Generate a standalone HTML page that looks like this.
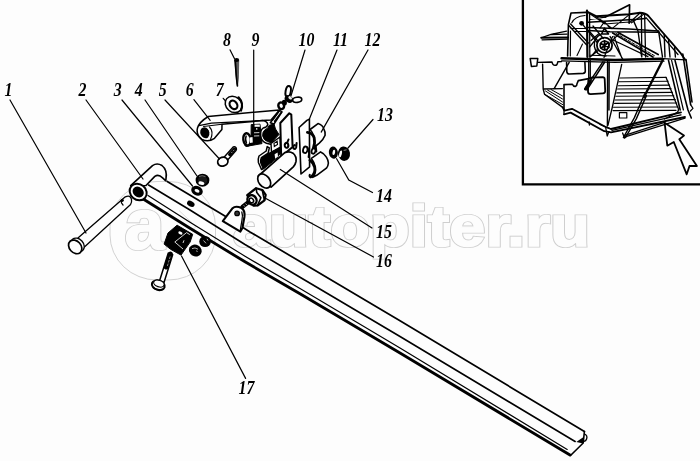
<!DOCTYPE html>
<html lang="ru">
<head>
<meta charset="utf-8">
<title>Схема</title>
<style>
html,body{margin:0;padding:0;background:#fdfdfd;}
body{width:700px;height:461px;overflow:hidden;position:relative;}
svg{position:absolute;left:0;top:0;display:block;}
.lbl{font-family:"Liberation Serif",serif;font-weight:bold;font-style:italic;font-size:18px;fill:#000;}
.wm{font-family:"Liberation Sans",sans-serif;font-weight:bold;fill:none;stroke:#cfcfcf;stroke-width:1;}
.ld{stroke:#000;stroke-width:1.2;fill:none;stroke-linecap:round;}
.ln{stroke:#000;stroke-width:1.3;fill:none;stroke-linecap:round;stroke-linejoin:round;}
.th{stroke:#000;stroke-width:2.2;fill:none;stroke-linecap:round;stroke-linejoin:round;}
.wf{stroke:#000;stroke-width:1.3;fill:#fdfdfd;stroke-linejoin:round;stroke-linecap:round;}
.bk{fill:#000;stroke:#000;stroke-width:1;stroke-linejoin:round;}
</style>
</head>
<body>
<svg width="700" height="461" viewBox="0 0 700 461">
<defs><filter id="idf" x="0" y="0" width="700" height="461" filterUnits="userSpaceOnUse"><feOffset dx="0" dy="0"/></filter></defs>
<rect x="0" y="0" width="700" height="461" fill="#fdfdfd"/>

<!-- WATERMARK -->
<g id="wm">
<rect x="110" y="181.5" width="105.5" height="98.5" rx="47" ry="45" fill="none" stroke="#d2d2d2" stroke-width="1"/>
<text class="wm" x="124.5" y="248.6" font-size="72" style="stroke-width:3.2">a</text>
<text class="wm" x="124.5" y="248.6" font-size="72" style="stroke:#fdfdfd;fill:#fdfdfd;stroke-width:1.4">a</text>
<path d="M179,210.5 L196,226.5 L192,230.5" fill="none" stroke="#d8d8d8" stroke-width="0.9"/>
<text class="wm" x="233" y="245.6" font-size="56.5" textLength="357" lengthAdjust="spacingAndGlyphs" style="stroke-width:3.2">autopiter.ru</text>
<text class="wm" x="233" y="245.6" font-size="56.5" textLength="357" lengthAdjust="spacingAndGlyphs" style="stroke:#fdfdfd;fill:#fdfdfd;stroke-width:1.4">autopiter.ru</text>
</g>

<!-- INSET BOX -->
<g id="inset">
<path d="M522.9,0 V184.3 H700" fill="none" stroke="#000" stroke-width="2.3"/>
<g fill="none" stroke="#000" stroke-linecap="round" stroke-linejoin="round">
<!-- top housing -->
<path stroke-width="1.6" d="M586,12.4 L571,13 L568.4,24.7 L567.6,56"/>
<path stroke-width="1.2" d="M570.5,31 L570.3,56 M571.8,22.8 Q574.5,16.5 585,15.5"/>
<circle cx="581.6" cy="23.3" r="2.4" fill="#000" stroke="none"/>
<path stroke-width="2.2" d="M587,10.6 L587.4,57"/>
<path stroke-width="1.3" d="M589.6,14 L589.8,57"/>
<path stroke-width="1.4" d="M568.8,25.5 L586.5,44.8 M570.6,24 L588.3,43"/>
<path stroke-width="1.1" d="M582.5,44 L577,55.5 M571,28.5 L586,28.5 M575,31.5 L586,31.5"/>
<!-- platform left -->
<path stroke-width="2" d="M541.3,37.8 L568,37.4"/>
<path stroke-width="1.2" d="M542,39.8 L568,39.2 M541.3,37.8 L551,34.4 L566.6,31.2 M551,34.6 L567,34.2"/>
<!-- pulley -->
<circle cx="604.5" cy="45.2" r="7.6" stroke-width="1.8"/>
<circle cx="604.6" cy="45.4" r="4.4" stroke-width="1.7"/>
<path stroke-width="1.9" d="M604.6,41 L604.6,49.8 M600.6,43.6 L608.8,47.2 M601.2,48.2 L608.2,42.4"/>
<path stroke-width="1.4" d="M606,56 Q596,56 594.4,46.6 Q593.6,38 600.6,34.4"/>
<path stroke-width="1.6" d="M601.5,34 L604.5,28.2 L608.5,34 Z"/>
<path stroke-width="1.1" d="M590,55.2 L615,56"/>
<path stroke-width="1.3" d="M591,40.6 L598.5,34 M589.6,47 L594.5,41 M592,55.5 L596.6,50"/>
<path stroke-width="1.3" d="M597.6,43 L583,24.8 M598.2,50.5 L590,57 M611,41.6 L620,33 M603.3,38.5 L593,26"/>
<!-- peak + roof frame -->
<path stroke-width="1.7" d="M605,17.2 L629.6,4.8 L629.2,23"/>
<path stroke-width="1.9" d="M588,12 L596,16.2 L629.6,14.2 L640,12.8 Q645.5,12.8 648.5,16 L656,24.8 L664,34 L672,43.2 L680.5,53 L685,59.5"/>
<path stroke-width="1.3" d="M646,17.6 L653.5,26.2 L661.6,35.5 L669.5,44.6 L678,54.5"/>
<path stroke-width="1.5" d="M588,22.2 L637.4,19.3 L645.4,18.4 M588,27.6 L629,29 L658.4,31"/>
<path stroke-width="1.2" d="M588,12.4 L605,24 L629,22 M596,16.2 L612,28.4 M605,17.2 L590,19.5 M629.2,23 L640,13 M631.5,22.8 L644,14 M612,28.6 L629.6,14.4 M600,28 L604.5,21.6 L610,28.4"/>
<path stroke-width="1.3" d="M641.4,13 L641.8,57 M644.6,13.6 L645.6,57"/>
<path stroke-width="1.4" d="M633,19.6 L638,31 L641.5,56 M658.6,31.2 L662.5,57 M664.2,34.2 L665,57 M668.6,40.5 L670,57 M674.6,47.4 L675.4,57"/>
<path stroke-width="1.5" d="M588,30.5 L610,31.8 L659.4,32.2"/>
<!-- conveyor diagonals -->
<path stroke-width="1.7" d="M612.7,33 L653,57 M618,32.4 L658.2,54.6"/>
<path stroke-width="1" stroke-dasharray="3 1.6" d="M616,33.4 L655,56"/>
<path stroke-width="1.2" d="M614,36.2 L621.8,58 M612.6,36.6 L604,57.5 M613,40 L648,56.6 M610,36.4 L623,59.6 M590,32 L598,41"/>
<!-- main horizontal band -->
<path stroke-width="2.5" d="M561.6,58.2 L615,60 L662,58.8"/>
<path stroke-width="1.2" d="M561.6,60.8 L615,62.4 L664,61.2 M663,58.6 L686,59.8"/>
<!-- left cup & shelf -->
<path stroke-width="1.5" d="M530.2,58.6 L537.8,58.4 L536.8,66 L531.4,66.4 Z"/>
<path stroke-width="1.4" d="M538,62.4 L552,62 Q552.6,65.4 555,65.4 Q557.4,65.4 557.8,61.8 L561.6,61.6"/>
<path stroke-width="1.4" d="M542.6,64.3 L543.2,89 L544.5,94.2 L562.7,107.4 M543.2,89 L562.4,88.6 M569.2,62.4 L554.3,88.4"/>
<path stroke-width="1" d="M545.5,91 L562.5,102 M547.5,90 L562.5,99 M551,89.5 L562.6,96 M544.5,94.2 L562.7,104.6"/>
<path stroke-width="1.6" d="M564,110 L564,84.6 L572.4,84.2 Q573.4,86.6 575.4,86.4 Q577,86 577,83.8 L578.3,80.6 L588.7,78.6"/>
<path stroke-width="1.6" d="M566.6,62.5 L566.8,71.6 Q567,74 569.4,74 L583,73.4 Q585.4,73.2 585.3,71 L584.9,62.4"/>
<path stroke-width="1.8" d="M591.4,77.6 L602.6,77.2 Q604.6,77.2 604.7,79.2 L605.2,91 Q605.2,93.2 603,93.3 L590.6,94.2 Q588,94.2 588,91.6 L588.3,80.4 Q588.6,77.8 591.4,77.6 Z"/>
<path stroke-width="1.3" d="M588.7,60.5 L588.7,82.5 M590.3,60.5 L590.3,78.5"/>
<path stroke-width="1.4" d="M603,61.7 L584.8,89 M604.8,62 L586.8,90"/>
<path stroke-width="3" d="M590.5,81 L585.5,89"/>
<path stroke-width="1.4" d="M607.6,60.4 L607.4,126 M609.2,62 L609,110"/>
<!-- louvres -->
<path stroke-width="1.3" d="M621.7,64.3 L612.6,106 L608,125"/>
<path stroke-width="1.15" d="M620,78 L666,77.4 M619,81.8 L668,81.2 M618.4,85.7 L669.6,85.1 M617.6,89 L671,88.6 M616.8,92.9 L672.4,92.4 M616,96.2 L673.8,95.8 M615.2,100 L675.2,99.6 M614.5,103.3 L676.6,103 M613.6,107.2 L678,107 M613,110.6 L676,110.4"/>
<path stroke-width="1.3" d="M666,77.3 L677.6,107 Q679.6,110 677,112.6 L664.6,119"/>
<rect x="619.4" y="112.6" width="7.4" height="5.4" stroke-width="1.2"/>
<!-- thick diagonal strut -->
<path stroke-width="2.3" d="M663.3,59.1 L644,97"/>
<path stroke-width="1.4" d="M644.6,94 L634.4,117.6 L623.4,137.6 M646.4,95.6 L636.4,118.6 L625.6,137.4"/>
<!-- right frame -->
<path stroke-width="1.6" d="M668.5,60.4 L680.2,110 M675,60.4 L688,110 L691.3,118 M682.8,54 L690.6,104.6 M686,59.6 L692,102"/>
<path stroke-width="1.2" d="M671.6,60.4 L683.4,110 M690.6,104.6 L693,108.4 L690.4,111"/>
<!-- bottom channel -->
<path stroke-width="1.8" d="M562.7,107.4 L564.4,110.6 L572,108.8 L605.6,127 L611,129 L681,112.4"/>
<path stroke-width="1.8" d="M564,114.3 L570.6,112.6 L604.3,131.2 L611,132.4 L685,117"/>
<path stroke-width="1.3" d="M612,130.4 L681,114.8 M623.6,137.3 L685,118.2 M624.8,135.4 L664.6,122.4 M605.6,127 L607.2,136 L609,131.6 M589.2,122 L589.4,125 M600,124.5 L611,129 M564,110.6 L564,114.3 M622.6,133 L624.6,138.2"/>
<!-- arrow -->
<path stroke-width="1.8" fill="#fdfdfd" d="M664.6,122.7 L667.3,145.7 L673.8,142 L686.7,174.3 L689.5,166 L696.9,166 L679.3,139.3 L684,135.6 Z"/>
</g>
</g>

<!-- BEAM -->
<g id="beam">
<path class="ln" stroke-width="1.7" d="M167.2,181.5 L227.4,217.6 L250,232 L300,261.5 L400,320.8 L584.4,431.5" style="stroke-width:1.7"/>
<path class="ln" d="M148.6,185 L190,210 L245,244.5 L300,277.2 L400,336.5 L575.1,441.5" style="stroke-width:1.6"/>
<path class="ln" d="M148,195.5 L190,222.2 L245,256.2 L300,288.6 L400,348.1 L567.2,449.4" style="stroke-width:1.2"/>
<path class="th" d="M142.8,198.7 L190,228.3 L245,261.8 L300,293.8 L400,353 L570,455" style="stroke-width:2.8"/>
<path class="ln" d="M584.4,431.5 L583.2,443 L570.5,455.5" style="stroke-width:1.6"/>
<path d="M576.3,442 L583.2,437.3 L583.2,443.6 Z" fill="#000"/>
<path class="ln" d="M584.6,434 Q587.8,435.5 586.6,439 Q586,441 584,441.3"/>
</g>


<!-- PIN 1 -->
<g id="pin1">
<path class="wf" d="M78.2,237.8 L125.3,196.8 Q130.5,194.5 131.5,199.5 Q132,202.5 130.6,204.4 L82.8,248.4 Z"/>
<ellipse class="wf" cx="77.6" cy="244.9" rx="7.6" ry="5.8" transform="rotate(48 77.6 244.9)" />
<ellipse class="wf" cx="75.2" cy="246.9" rx="7.6" ry="5.8" transform="rotate(48 75.2 246.9)" style="stroke-width:1.7"/>
<circle cx="122.2" cy="200.3" r="1.6" fill="#000"/>
<path class="ln" d="M121.3,200.8 Q120.8,203 123,205"/>
</g>

<!-- TUBE 2 -->
<g id="tube2">
<path class="wf" style="stroke-width:1.6" d="M130.7,185.7 L152.5,165.6 Q157,162.5 162,165.5 Q167.5,170 166,178.5 L165.8,180.8 L162.6,177.8 Q158.5,173.8 154.8,176.4 L146,185.5 Z"/>
<ellipse class="wf" cx="138.2" cy="192" rx="9" ry="7.8" transform="rotate(40 138.2 192)" style="stroke-width:2"/>
<ellipse cx="138.2" cy="192" rx="6" ry="5" transform="rotate(40 138.2 192)" fill="#000"/>
</g>


<!-- NUT 4 / WASHER 3 / HOLE -->
<g id="nuts34">
<ellipse cx="190.8" cy="203.8" rx="4" ry="2.7" transform="rotate(28 190.8 203.8)" fill="#000"/>
<ellipse cx="197" cy="190.7" rx="6" ry="4.7" transform="rotate(25 197 190.7)" fill="#000"/>
<ellipse cx="197" cy="190.8" rx="2.6" ry="1.6" transform="rotate(25 197 190.8)" fill="#fdfdfd"/>
<ellipse cx="202.5" cy="180.2" rx="5.8" ry="5.4" fill="#1a1a1a" stroke="#000" stroke-width="2.2"/>
<ellipse cx="201.4" cy="183.2" rx="3" ry="1.7" transform="rotate(15 201.4 183.2)" fill="#fdfdfd"/>
<path d="M199,176.5 Q202,174.8 205.5,176.6" stroke="#888" stroke-width="0.8" fill="none"/>
</g>

<!-- LUG -->
<g id="lug">
<path class="wf" style="stroke-width:2.1" d="M222.8,221.2 L232.6,208.2 Q235.5,205.3 241.5,208 Q245.3,210.5 244.4,217 L242.4,228 L240.4,231.6 Z"/>
<path class="ln" d="M241.8,212 Q243,215 242,220 L240.4,229.5"/>
<circle cx="237.1" cy="213.4" r="2.3" fill="#333" stroke="#000" stroke-width="1.2"/>
</g>

<!-- BOLT+NUT 16 -->
<g id="nut16">
<path d="M242.4,206.8 L250,200.8" stroke="#000" stroke-width="4.2" stroke-linecap="round"/>
<path d="M243.6,205.2 L244.8,206.6 M245.6,203.6 L246.8,205" stroke="#ddd" stroke-width="0.7"/>
<path class="wf" style="stroke-width:2.2" d="M247.2,195.2 L256.1,188.2 L262.3,190 L265.7,194.8 L264.5,200.3 L257.5,205.5 L253.5,205.6 Z"/>
<path class="ln" style="stroke-width:1.6" d="M256.1,188.2 L256.8,192.6 L260.9,197.7 L257.5,205.5 M262.3,190 L263.4,195.6 L264.5,200.3"/>
<ellipse cx="252" cy="199.9" rx="4.3" ry="5" transform="rotate(-38 252 199.9)" fill="#fdfdfd" stroke="#000" stroke-width="2.4"/>
<ellipse cx="251.4" cy="200.4" rx="2" ry="2.5" transform="rotate(-38 251.4 200.4)" fill="#fdfdfd" stroke="#000" stroke-width="1.5"/>
</g>

<!-- BLOCK 17 -->
<g id="block17">
<path class="bk" d="M164.1,244.1 L168,233 L177.1,225.2 L192.7,234.3 L190.1,242.1 L181,255.1 L170.6,249.3 Z"/>
<ellipse cx="180.4" cy="233" rx="2.2" ry="1.4" transform="rotate(25 180.4 233)" fill="#fdfdfd"/>
<path d="M174.8,242 L186.6,232.6 L189.8,234.6 M174.8,242 L183,249" stroke="#e8e8e8" stroke-width="0.9" fill="none"/>
<path d="M183,243 L184,240.3" stroke="#e8e8e8" stroke-width="0.9" fill="none"/>
</g>

<!-- NUTS near block -->
<g id="nutsb">
<ellipse cx="205.1" cy="241.5" rx="5.8" ry="5.6" fill="#000"/>
<path d="M203.5,240.5 L206,243.3 M207,238.8 L208,240.5" stroke="#ddd" stroke-width="0.8" fill="none"/>
<ellipse cx="195.3" cy="250.6" rx="6.5" ry="5.8" transform="rotate(30 195.3 250.6)" fill="#000"/>
<path d="M192,248.6 Q195,247 198,249.2 M196.6,250.5 L197.3,252" stroke="#ddd" stroke-width="0.8" fill="none"/>
</g>

<!-- BOLT below block -->
<g id="boltb">
<path class="wf" d="M168.3,253 L159.5,281 L164,282.5 L172.7,254.6 Z" style="stroke-width:1.5"/>
<path d="M170.5,253.9 L166.2,267.2" stroke="#000" stroke-width="4.6" stroke-linecap="round"/>
<path d="M170.2,256.5 L169.4,259 M169.2,260 L168.4,262.5 M168.1,263.6 L167.4,266" stroke="#bbb" stroke-width="0.7"/>
<ellipse cx="158.3" cy="285.2" rx="6.6" ry="4.7" transform="rotate(18 158.3 285.2)" fill="#fdfdfd" stroke="#000" stroke-width="2"/>
<ellipse cx="158.9" cy="283.6" rx="5.4" ry="3.2" transform="rotate(18 158.9 283.6)" fill="#fdfdfd" stroke="#000" stroke-width="1.1"/>
<path d="M153,287.5 Q157,291 163.5,289.2" stroke="#000" stroke-width="1.6" fill="none"/>
</g>


<!-- BOLT 5 -->
<g id="bolt5">
<path class="wf" style="stroke-width:1.4" d="M223.8,157.5 L233.2,147 Q235.3,146 236.3,148 Q236.8,149.4 236,150.5 L227,160.8 Z"/>
<path d="M229.8,154.5 L234.6,149.2" stroke="#000" stroke-width="3.4" stroke-linecap="round"/>
<path d="M231.3,153 L232.4,151.8 M233.2,151 L234.2,149.8" stroke="#ccc" stroke-width="0.7"/>
<ellipse class="wf" style="stroke-width:1.8" cx="222.8" cy="161.7" rx="5.2" ry="4.4" transform="rotate(-15 222.8 161.7)"/>
</g>

<!-- WASHER 7 -->
<g id="washer7">
<ellipse class="wf" style="stroke-width:1.5" cx="233.6" cy="104.4" rx="9" ry="7.6" transform="rotate(40 233.6 104.4)"/>
<path d="M238.5,97.3 Q244,103 241,110.5" stroke="#000" stroke-width="2.2" fill="none" stroke-linecap="round"/>
<ellipse cx="233.5" cy="104.8" rx="4.6" ry="3.5" transform="rotate(55 233.5 104.8)" fill="#fdfdfd" stroke="#000" stroke-width="2.2"/>
</g>

<!-- COTTER 8 -->
<g id="cotter8">
<path d="M234.4,60.5 L239.2,60.2 L238.9,78 L237.9,86.6 L236.4,84 L235,68 Z" fill="#5a5a5a"/>
<path d="M235.2,60.5 L236.2,75 L237.4,85.8" stroke="#000" stroke-width="1.7" stroke-linecap="round" fill="none"/>
<ellipse cx="236.6" cy="60" rx="2.6" ry="2" fill="#000"/>
</g>

<!-- STRAP 6 -->
<g id="strap6">
<path class="wf" style="stroke-width:1.5" d="M208.2,116.5 L279.5,109.9 L271,120 L262,120.6 L222,124.3 L221.9,129.5 L214.5,138.3 Q208,142.8 202,139.3 Q195.8,135 197.5,128 Q199,122.3 208.2,116.5 Z"/>
<path class="ln" style="stroke-width:1.3" d="M199,125.6 L211.5,123.2 L262,120.6"/>
<path class="ln" style="stroke-width:1.1" d="M203.5,126.5 L222,124.3"/>
<ellipse cx="205" cy="132.8" rx="4.6" ry="5.6" transform="rotate(-25 205 132.8)" fill="#000"/>
<path d="M207.8,128.4 Q211.6,132 208.8,137.2" stroke="#fdfdfd" stroke-width="0.9" fill="none"/>
<path class="ln" style="stroke-width:1.2" d="M209.5,127 Q214,131.5 210.5,139.5"/>
</g>

<!-- NUT/BOLT 9 -->
<g id="nut9">
<path class="bk" d="M251.2,124.6 L260,124.2 L260.6,131 L261,137 L262,143.6 L246,146.4 L244.5,145 L251,141.5 Z"/>
<rect x="254.4" y="124.6" width="5.4" height="2.2" fill="#fdfdfd"/>
<rect x="256" y="128.2" width="1.4" height="1.4" fill="#fdfdfd"/>
<path d="M254,132.8 L259.4,132.6 M254,136 L259.4,135.8" stroke="#e6e6e6" stroke-width="0.9" fill="none"/>
<ellipse cx="247" cy="139.4" rx="3.7" ry="6.2" transform="rotate(-8 247 139.4)" fill="#fdfdfd" stroke="#000" stroke-width="2.4"/>
<path d="M246.3,135.5 Q244.6,139.5 246.6,143.6" stroke="#000" stroke-width="1.4" fill="none"/>
<path d="M249.5,137.5 L252.5,137 L252.8,142.6 L250,143 Z" fill="#fdfdfd"/>
</g>

<!-- BRACKET -->
<g id="bracket">
<path class="wf" style="stroke-width:1.5" d="M270.3,122.8 L279.6,110.4 L282,111.8 L274,124 Z"/>
<path class="bk" d="M269.2,125.3 L274,124 L275.5,129 L279,134.5 L271.2,142.8 L267.5,141.6 Q263.5,140 262.7,136 Q262.2,132 265,129.7 Q268.5,128.5 269.2,125.3 Z"/>
<path class="ln" style="stroke-width:1.5" d="M262,120.6 Q267.2,121 267.8,124.6 Q267.2,127.2 263.2,128 Q260,130.5 260.3,136 Q261.5,141.5 266.5,143.2 L270.5,144.2"/>
<path class="wf" style="stroke-width:1.4" d="M271,143.4 L280,137 L280.4,147 L271.5,152 Z"/>
<path d="M274,143.4 L277.2,141.2 L277.5,144.4 L274.3,146.5 Z" fill="#fdfdfd" stroke="#000" stroke-width="1.1"/>
<path class="bk" d="M271.5,152 L280.4,147.5 L280.4,153 L277,158 L263.5,169 L260.8,163 L261.3,157.8 L268,153.6 Z"/>
<path d="M274.6,154.2 L277.6,152.6 L278,156.4 L275.2,158.8 Z" fill="#fdfdfd"/>
<path class="wf" style="stroke-width:1.5" d="M267.2,146.6 L266.2,151 L259,156 Q257.8,159 258.4,162.5 L261.5,169.5 L263.2,168.5 L260.8,162.8 Q260.4,159.6 261.4,157.6 L268.2,153 L269.3,147.8 Z"/>
</g>

<!-- PLATE A (part 10 side) -->
<g id="plateA">
<path class="wf" style="stroke-width:2" d="M280.3,123 L289.3,113.2 L291.3,114.6 L292.6,147 L281.2,156.5 Z"/>
<path class="ln" style="stroke-width:2" d="M287.3,142.5 Q284.3,143 284.8,146 Q285.6,148.5 287.8,147.3 Q289.2,145.5 287.3,142.5 L288.5,139.5"/>
<path class="ln" style="stroke-width:2" d="M294.5,145 Q292.5,146.5 293.6,148.6 Q295.5,149.6 296.2,147.2 L296.6,143"/>
</g>

<!-- WING NUT 10 -->
<g id="wing10">
<path class="ln" style="stroke-width:1.5" d="M279.3,110.8 L272.6,120 M281.6,112 L274.6,121.3"/>
<ellipse cx="288.2" cy="91.4" rx="2.6" ry="5.4" transform="rotate(10 288.2 91.4)" fill="#fdfdfd" stroke="#000" stroke-width="2"/>
<ellipse cx="297.2" cy="99.8" rx="4.6" ry="2.6" transform="rotate(-8 297.2 99.8)" fill="#fdfdfd" stroke="#000" stroke-width="1.6"/>
<ellipse cx="288.8" cy="99" rx="4.4" ry="3.5" transform="rotate(35 288.8 99)" fill="#000"/>
<ellipse cx="290.2" cy="97.8" rx="2" ry="1.4" transform="rotate(35 290.2 97.8)" fill="#e8e8e8"/>
<ellipse cx="284.3" cy="102.8" rx="2.6" ry="3" fill="#000"/>
<ellipse cx="281.2" cy="105.8" rx="2.8" ry="3.4" transform="rotate(-20 281.2 105.8)" fill="#fdfdfd" stroke="#000" stroke-width="2.4"/>
</g>

<!-- PLATE B (11) -->
<g id="plateB">
<path class="wf" style="stroke-width:1.6" d="M299.1,127.5 L306.9,120.4 L309.4,119.1 L309.6,166.8 L301,174 Z"/>
</g>

<!-- CLAMPS 12 -->
<g id="clamps12">
<path class="wf" style="stroke-width:1.6" d="M310.1,129.5 L318,123.6 Q322.5,125 323.8,128.8 Q325.6,132 325.1,135.3 Q323.5,139.5 319.3,143.2 L314.5,147 Q315.5,141 314,136.7 Q312.8,132.5 310.1,129.5 Z"/>
<path class="ln" style="stroke-width:2.8" d="M307.4,132.4 Q312.6,133 314.2,137.8 Q315.2,142.5 313.4,148"/>
<path class="wf" style="stroke-width:1.6" d="M311.4,158.4 L320.6,151.9 Q324.5,153.5 326.4,157.1 Q328.2,160 328.4,163 Q328.2,166 326.4,168.2 L316.7,175.3 L312.7,177.3 Q316.5,173 315.3,167 Q314.3,162 311.4,158.4 Z"/>
<path class="ln" style="stroke-width:2.6" d="M309.8,160.3 Q313.5,163 314.6,167.5 Q315.8,173.5 310.8,177"/>
<path class="ln" style="stroke-width:2" d="M310.6,177.2 Q309,176.5 309.8,174.8"/>
<ellipse cx="305.3" cy="149.8" rx="2.2" ry="3.3" transform="rotate(15 305.3 149.8)" fill="#fdfdfd" stroke="#000" stroke-width="1.8"/>
<ellipse cx="313.5" cy="151" rx="1.9" ry="2.8" transform="rotate(15 313.5 151)" fill="#fdfdfd" stroke="#000" stroke-width="1.8"/>
<path class="ln" style="stroke-width:2" d="M307.5,148 Q310,152 308.6,157 M315.8,146.5 L316.3,151.5"/>
</g>

<!-- CYLINDER 15 -->
<g id="cyl15">
<path class="wf" style="stroke-width:1.7" d="M258.3,176 L284.8,152.6 Q289.5,150.8 293,153.2 Q296.8,156.5 296,161.5 Q295.3,164.8 293.3,166.9 L271.1,187.1 Z"/>
<ellipse class="wf" style="stroke-width:1.7" cx="264.2" cy="181" rx="7.9" ry="5.5" transform="rotate(52 264.2 181)"/>
</g>

<!-- NUT 13 / WASHER 14 -->
<g id="nuts1314">
<ellipse cx="333.4" cy="152.6" rx="4.5" ry="6.1" transform="rotate(-8 333.4 152.6)" fill="#000"/>
<ellipse cx="333.8" cy="152.4" rx="1.3" ry="2.6" transform="rotate(12 333.8 152.4)" fill="#fdfdfd"/>
<ellipse cx="344" cy="153.7" rx="6" ry="7.2" transform="rotate(-8 344 153.7)" fill="#000"/>
<ellipse cx="340.5" cy="153.9" rx="1.3" ry="3.4" transform="rotate(14 340.5 153.9)" fill="#fdfdfd"/>
<path d="M343.6,150.4 L346.6,149.8" stroke="#888" stroke-width="1" fill="none"/>
</g>

<!-- LEADERS -->
<g id="leaders">
<path class="ld" d="M10,100 L86,233"/>
<path class="ld" d="M86,100 L143,179"/>
<path class="ld" d="M122,100 L192.5,186"/>
<path class="ld" d="M145,100 L197,176"/>
<path class="ld" d="M165,100 L219.5,159"/>
<path class="ld" d="M193.9,99.6 L210.2,120.4"/>
<path class="ld" d="M223.2,98.3 L225.6,101"/>
<path class="ld" d="M230.1,49.9 L234.4,58.6"/>
<path class="ld" d="M253.7,50 L253.7,128"/>
<path class="ld" d="M305,50 L291,95.8"/>
<path class="ld" d="M337,50 L309.1,119.7"/>
<path class="ld" d="M368,50 L321.2,132.1"/>
<path class="ld" d="M373,119.5 L348,148"/>
<path class="ld" d="M336.6,158.7 L348.8,180 L372.5,192.5"/>
<path class="ld" d="M280.3,169.5 L372,228"/>
<path class="ld" d="M264.5,197.8 L373.5,257"/>
<path class="ld" d="M181.5,256 L245.6,378.4"/>
</g>

<!-- LABELS -->
<g id="labels" filter="url(#idf)">
<text class="lbl" text-anchor="middle" transform="translate(8.5,95.7) scale(0.88,1)">1</text>
<text class="lbl" text-anchor="middle" transform="translate(82.5,95.7) scale(0.88,1)">2</text>
<text class="lbl" text-anchor="middle" transform="translate(117.8,95.7) scale(0.88,1)">3</text>
<text class="lbl" text-anchor="middle" transform="translate(138.8,95.7) scale(0.88,1)">4</text>
<text class="lbl" text-anchor="middle" transform="translate(162.8,95.7) scale(0.88,1)">5</text>
<text class="lbl" text-anchor="middle" transform="translate(189.8,95.7) scale(0.88,1)">6</text>
<text class="lbl" text-anchor="middle" transform="translate(219.8,95.7) scale(0.88,1)">7</text>
<text class="lbl" text-anchor="middle" transform="translate(226.9,46.0) scale(0.88,1)">8</text>
<text class="lbl" text-anchor="middle" transform="translate(255.4,46.0) scale(0.88,1)">9</text>
<text class="lbl" text-anchor="middle" transform="translate(306.4,46.0) scale(0.88,1)">10</text>
<text class="lbl" text-anchor="middle" transform="translate(340.4,46.0) scale(0.88,1)">11</text>
<text class="lbl" text-anchor="middle" transform="translate(372.4,46.0) scale(0.88,1)">12</text>
<text class="lbl" text-anchor="middle" transform="translate(384.9,120.8) scale(0.88,1)">13</text>
<text class="lbl" text-anchor="middle" transform="translate(384.0,201.5) scale(0.88,1)">14</text>
<text class="lbl" text-anchor="middle" transform="translate(384.0,237.5) scale(0.88,1)">15</text>
<text class="lbl" text-anchor="middle" transform="translate(384.0,266.5) scale(0.88,1)">16</text>
<text class="lbl" text-anchor="middle" transform="translate(246.4,393.9) scale(0.88,1)">17</text>
</g>
</svg>
</body>
</html>
